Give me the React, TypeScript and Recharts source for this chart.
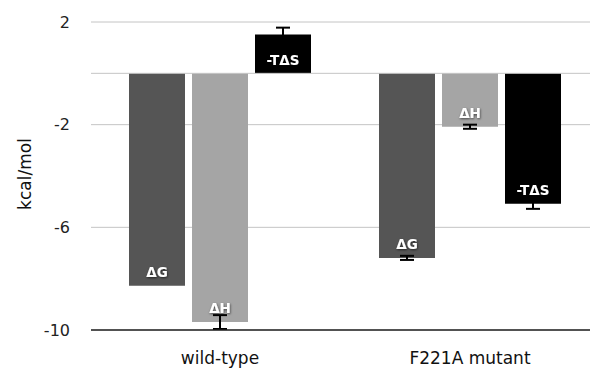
import { BarChart, Bar, XAxis, YAxis, CartesianGrid, ErrorBar, LabelList, Label, ReferenceLine } from 'recharts'

const categories = ['wild-type', 'F221A mutant']
const dG = [-8.28, -7.19]
const dH = [-9.69, -2.08]
const mTdS = [1.51, -5.08]
const dGErr = [null, 0.08]
const dHErr = [0.27, 0.08]
const mTdSErr = [0.27, 0.2]
const yTicks = [2, -2, -6, -10]

const data = categories.map((name, i) => ({
  name,
  dG: dG[i],
  dH: dH[i],
  mTdS: mTdS[i],
  dGErr: dGErr[i],
  dHErr: dHErr[i],
  mTdSErr: mTdSErr[i],
}))

const FONT = '"DejaVu Sans", sans-serif'

function barLabel(text: string, key: string) {
  return (props: any) => {
    const { x, y, width, height, value, index } = props
    const bottom = Math.max(y, y + height)
    const cy = value < 0 ? bottom - 14 : bottom - 13
    const id = `shadow-${key}-${index}`
    return (
      <g>
        <defs>
          <filter id={id} x="-20%" y="-40%" width="140%" height="180%">
            <feDropShadow dx="0.6" dy="1" stdDeviation="1.2" floodColor="#000" floodOpacity="0.6" />
          </filter>
        </defs>
        <text
          x={x + width / 2}
          y={cy}
          textAnchor="middle"
          dominantBaseline="central"
          fill="#fff"
          fontFamily={FONT}
          fontWeight="bold"
          fontSize={13.5}
          filter={`url(#${id})`}
        >
          {text}
        </text>
      </g>
    )
  }
}

export default function App() {
  return (
    <div style={{ position: 'absolute', left: 0, top: 0, width: 590, height: 368, overflow: 'hidden', background: '#fff' }}>
      <BarChart
        width={595}
        height={368}
        data={data}
        margin={{ top: 22, right: 0, bottom: 0, left: 0 }}
        barSize={56}
        barGap={7}
      >
        <CartesianGrid vertical={false} stroke="#c4c4c4" strokeWidth={1} />
        <ReferenceLine y={0} stroke="#c4c4c4" strokeWidth={1} />
        <XAxis
          dataKey="name"
          height={38}
          padding={{ left: 4, right: 0 }}
          axisLine={{ stroke: '#222', strokeWidth: 1.5 }}
          tickLine={false}
          tickSize={0}
          tickMargin={22}
          tick={{ fill: '#111', fontSize: 17, fontFamily: FONT }}
        />
        <YAxis
          width={91}
          domain={[-10, 2]}
          ticks={yTicks}
          interval={0}
          axisLine={false}
          tickLine={false}
          tickSize={0}
          tickMargin={21}
          tick={{ fill: '#222', fontSize: 16, fontFamily: FONT }}
        >
          <Label
            content={() => (
              <text
                x={25}
                y={174}
                transform="rotate(-90 25 174)"
                textAnchor="middle"
                dominantBaseline="central"
                fill="#111"
                fontSize={17}
                fontFamily={FONT}
              >
                kcal/mol
              </text>
            )}
          />
        </YAxis>
        <Bar dataKey="dG" fill="#555555" isAnimationActive={false}>
          <ErrorBar dataKey="dGErr" width={7} strokeWidth={2} stroke="#000" direction="y" />
          <LabelList dataKey="dG" content={barLabel('ΔG', 'dg')} />
        </Bar>
        <Bar dataKey="dH" fill="#a5a5a5" isAnimationActive={false}>
          <ErrorBar dataKey="dHErr" width={7} strokeWidth={2} stroke="#000" direction="y" />
          <LabelList dataKey="dH" content={barLabel('ΔH', 'dh')} />
        </Bar>
        <Bar dataKey="mTdS" fill="#000000" isAnimationActive={false}>
          <ErrorBar dataKey="mTdSErr" width={7} strokeWidth={2} stroke="#000" direction="y" />
          <LabelList dataKey="mTdS" content={barLabel('-TΔS', 'ts')} />
        </Bar>
      </BarChart>
    </div>
  )
}
